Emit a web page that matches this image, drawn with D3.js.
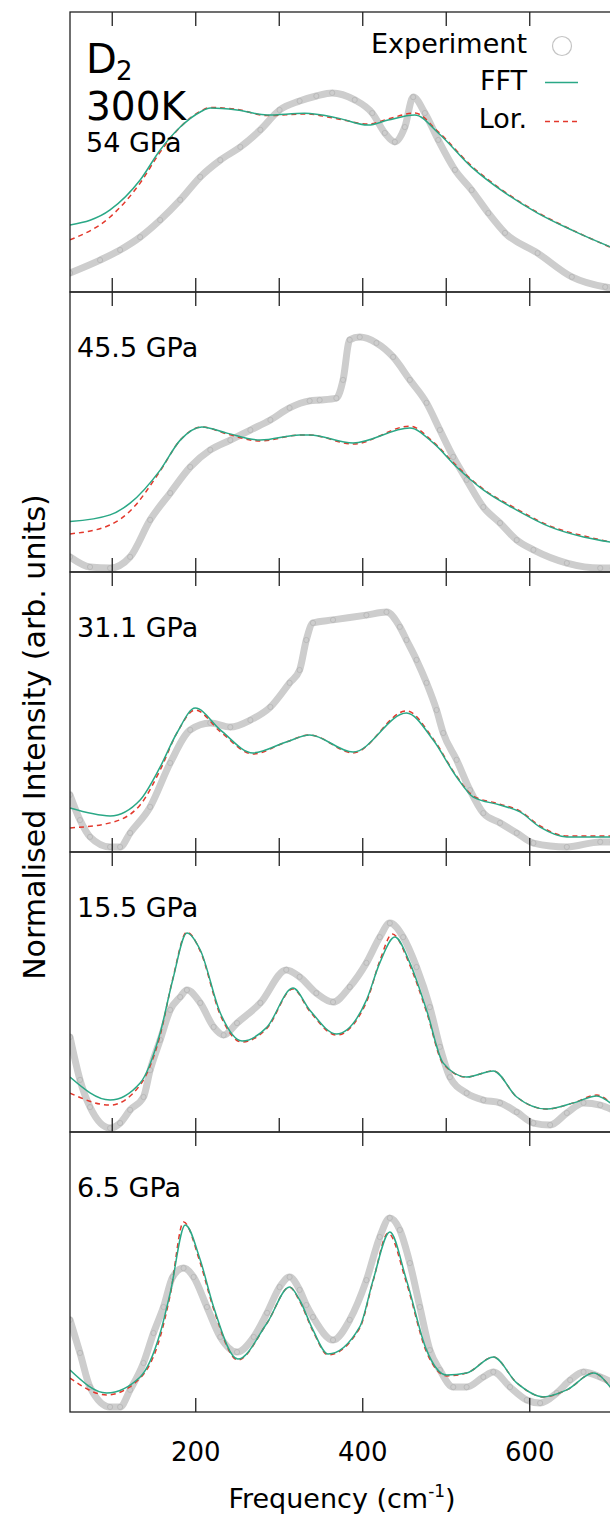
<!DOCTYPE html>
<html>
<head>
<meta charset="utf-8">
<script src="https://cdn.jsdelivr.net/npm/d3@7"></script>
<style>
  html, body { margin: 0; padding: 0; background: #fff; }
  svg { display: block; font-family: "DejaVu Sans", sans-serif; }
</style>
</head>
<body>
<svg id="chart" width="610" height="1525"></svg>
<script>
// ---------------- DATA ----------------
const pressureLabels = ["54 GPa", "45.5 GPa", "31.1 GPa", "15.5 GPa", "6.5 GPa"];
const xDomain = [50, 700];
const xTickLabels = [200, 400, 600];
const minorTicks = [100, 200, 300, 400, 500, 600];

// [frequency (cm-1), normalised intensity]
const exp54 = [[50,0.068],[86,0.114],[110,0.150],[134,0.196],[158,0.257],[182,0.329],[206,0.411],[230,0.471],[254,0.518],[278,0.579],[301,0.650],[325,0.682],[345,0.700],[364,0.711],[391,0.686],[412,0.639],[427,0.568],[439,0.536],[451,0.589],[461,0.696],[475,0.639],[491,0.543],[511,0.436],[531,0.364],[551,0.282],[571,0.211],[610,0.139],[651,0.054],[691,0.018],[700,0.014]];
const fft54 = [[50,0.239],[98,0.293],[134,0.400],[158,0.507],[182,0.589],[206,0.643],[218,0.657],[250,0.650],[286,0.632],[331,0.638],[371,0.621],[407,0.596],[431,0.614],[463,0.632],[491,0.568],[531,0.446],[571,0.354],[610,0.282],[651,0.221],[697,0.161]];
const lor54 = [[50,0.186],[98,0.268],[134,0.389],[158,0.500],[182,0.589],[206,0.645],[218,0.659],[250,0.652],[286,0.630],[331,0.636],[371,0.618],[407,0.600],[431,0.618],[463,0.639],[491,0.572],[531,0.450],[571,0.357],[610,0.284],[651,0.222],[697,0.160]];

const exp455 = [[50,0.054],[74,0.018],[98,0.014],[122,0.054],[146,0.186],[170,0.282],[194,0.375],[218,0.436],[242,0.471],[266,0.507],[290,0.543],[313,0.586],[337,0.611],[349,0.614],[369,0.621],[377,0.686],[385,0.829],[397,0.839],[417,0.818],[437,0.768],[457,0.686],[477,0.604],[493,0.507],[509,0.411],[525,0.329],[545,0.232],[565,0.175],[585,0.114],[605,0.079],[645,0.032],[685,0.014],[700,0.014]];
const fft455 = [[50,0.180],[98,0.204],[122,0.246],[158,0.364],[182,0.471],[208,0.518],[238,0.496],[278,0.471],[325,0.489],[337,0.489],[389,0.461],[457,0.514],[485,0.461],[513,0.375],[545,0.293],[585,0.221],[625,0.161],[665,0.125],[697,0.107]];
const lor455 = [[50,0.136],[98,0.168],[122,0.218],[158,0.361],[182,0.471],[208,0.518],[238,0.493],[278,0.468],[325,0.489],[337,0.489],[389,0.457],[457,0.521],[485,0.464],[513,0.379],[545,0.296],[585,0.225],[625,0.164],[665,0.129],[697,0.107]];

const exp311 = [[50,0.204],[62,0.114],[74,0.054],[98,0.018],[110,0.018],[122,0.068],[146,0.161],[170,0.318],[194,0.436],[218,0.461],[242,0.446],[266,0.471],[290,0.518],[313,0.604],[325,0.650],[333,0.757],[341,0.818],[365,0.829],[405,0.846],[429,0.857],[445,0.804],[453,0.757],[465,0.686],[477,0.604],[489,0.507],[497,0.425],[513,0.329],[529,0.221],[545,0.139],[565,0.104],[585,0.068],[605,0.032],[645,0.018],[685,0.036],[700,0.036]];
const fft311 = [[50,0.157],[98,0.129],[134,0.186],[158,0.304],[178,0.425],[200,0.514],[230,0.436],[269,0.354],[309,0.393],[337,0.418],[389,0.357],[453,0.496],[485,0.400],[513,0.268],[533,0.196],[565,0.168],[589,0.143],[613,0.089],[645,0.054],[697,0.054]];
const lor311 = [[50,0.086],[98,0.104],[134,0.168],[158,0.293],[178,0.425],[200,0.507],[230,0.430],[269,0.350],[309,0.393],[337,0.418],[389,0.354],[453,0.504],[485,0.404],[513,0.271],[533,0.200],[565,0.171],[589,0.146],[613,0.093],[645,0.057],[697,0.057]];

const exp155 = [[50,0.339],[62,0.186],[74,0.089],[98,0.014],[110,0.032],[122,0.079],[138,0.125],[146,0.221],[158,0.329],[170,0.436],[182,0.482],[190,0.507],[206,0.461],[222,0.375],[234,0.346],[250,0.389],[278,0.461],[309,0.579],[325,0.554],[345,0.496],[365,0.464],[385,0.518],[405,0.604],[421,0.696],[433,0.746],[449,0.696],[465,0.589],[481,0.446],[493,0.304],[505,0.196],[525,0.139],[545,0.114],[565,0.104],[585,0.071],[605,0.032],[625,0.025],[645,0.068],[665,0.104],[685,0.096],[700,0.079]];
const fft155 = [[50,0.196],[98,0.114],[134,0.175],[158,0.354],[173,0.543],[190,0.711],[206,0.650],[230,0.425],[256,0.325],[286,0.375],[317,0.514],[337,0.436],[369,0.350],[405,0.471],[421,0.604],[439,0.696],[457,0.604],[477,0.436],[497,0.246],[525,0.196],[557,0.218],[585,0.125],[621,0.082],[653,0.104],[681,0.129],[697,0.104]];
const lor155 = [[50,0.139],[98,0.096],[134,0.168],[158,0.346],[173,0.546],[190,0.714],[206,0.646],[230,0.418],[256,0.321],[286,0.371],[317,0.511],[337,0.432],[369,0.346],[405,0.464],[421,0.611],[436,0.707],[457,0.596],[477,0.429],[497,0.243],[525,0.196],[557,0.218],[585,0.125],[621,0.082],[653,0.104],[681,0.132],[697,0.104]];

const exp65 = [[50,0.329],[62,0.211],[74,0.089],[98,0.018],[110,0.018],[122,0.079],[138,0.175],[150,0.282],[162,0.375],[173,0.482],[186,0.514],[198,0.482],[214,0.375],[230,0.268],[250,0.214],[270,0.268],[286,0.354],[301,0.446],[313,0.482],[325,0.436],[333,0.382],[341,0.339],[365,0.257],[385,0.329],[405,0.471],[421,0.625],[433,0.693],[445,0.650],[457,0.532],[469,0.375],[481,0.221],[493,0.150],[509,0.089],[525,0.089],[545,0.125],[557,0.143],[577,0.089],[597,0.043],[613,0.032],[633,0.068],[649,0.114],[665,0.143],[685,0.125],[700,0.104]];
const fft65 = [[50,0.150],[94,0.068],[134,0.125],[158,0.282],[170,0.425],[188,0.668],[206,0.543],[222,0.375],[251,0.189],[286,0.318],[313,0.446],[325,0.400],[341,0.293],[359,0.207],[397,0.304],[413,0.471],[433,0.643],[453,0.471],[477,0.221],[501,0.132],[525,0.139],[557,0.196],[585,0.104],[617,0.054],[645,0.079],[677,0.139],[697,0.089]];
const lor65 = [[50,0.121],[94,0.061],[134,0.121],[158,0.268],[170,0.418],[186,0.679],[206,0.532],[222,0.368],[251,0.186],[286,0.318],[313,0.446],[325,0.396],[341,0.289],[359,0.204],[397,0.300],[413,0.468],[431,0.639],[453,0.461],[477,0.214],[501,0.129],[525,0.139],[557,0.196],[585,0.104],[617,0.054],[645,0.079],[677,0.139],[697,0.089]];

const expSeries = [exp54, exp455, exp311, exp155, exp65];
const fftSeries = [fft54, fft455, fft311, fft155, fft65];
const lorSeries = [lor54, lor455, lor311, lor155, lor65];

// ---------------- LAYOUT ----------------
const svg = d3.select("#chart");
const left = 70, right = 612.75, top0 = 12, panelH = 280;
const fftColor = "#2aa886", lorColor = "#e3382c";
const x = d3.scaleLinear().domain(xDomain).range([left, right]);

svg.append("defs").selectAll("clipPath").data(pressureLabels).join("clipPath")
  .attr("id", (d, i) => "clip" + i)
  .append("rect")
  .attr("x", left).attr("y", (d, i) => top0 + i * panelH)
  .attr("width", right - left).attr("height", panelH);

pressureLabels.forEach((label, i) => {
  const pTop = top0 + i * panelH, pBot = pTop + panelH;
  const y = d3.scaleLinear().domain([0, 1]).range([pBot, pTop]);
  const g = svg.append("g");
  const data = g.append("g").attr("clip-path", `url(#clip${i})`);

  const expLine = d3.line().x(d => x(d[0])).y(d => y(d[1])).curve(d3.curveMonotoneX);
  data.append("path").datum(expSeries[i])
    .attr("d", expLine).attr("fill", "none")
    .attr("stroke", "#cdcdcd").attr("stroke-width", 7)
    .attr("stroke-linejoin", "round").attr("stroke-linecap", "round");
  data.selectAll("circle.exp").data(expSeries[i]).join("circle")
    .attr("class", "exp")
    .attr("cx", d => x(d[0])).attr("cy", d => y(d[1])).attr("r", 2.6)
    .attr("fill", "none").attr("stroke", "#bababa").attr("stroke-width", 1);

  const fitLine = d3.line().x(d => x(d[0])).y(d => y(d[1])).curve(d3.curveMonotoneX);
  data.append("path").datum(lorSeries[i]).attr("d", fitLine)
    .attr("fill", "none").attr("stroke", lorColor).attr("stroke-width", 1.5)
    .attr("stroke-dasharray", "5,4");
  data.append("path").datum(fftSeries[i]).attr("d", fitLine)
    .attr("fill", "none").attr("stroke", fftColor).attr("stroke-width", 1.5);

  const ticks = i === 4 ? xTickLabels : minorTicks;
  const topAx = d3.axisTop(x).tickValues(ticks).tickSizeInner(-14).tickSizeOuter(0).tickFormat("");
  const botAx = d3.axisBottom(x).tickValues(ticks).tickSizeInner(-14).tickSizeOuter(0)
    .tickFormat(i === 4 ? d3.format("d") : "").tickPadding(31);
  const ta = g.append("g").attr("transform", `translate(0,${pTop})`).call(topAx);
  const ba = g.append("g").attr("transform", `translate(0,${pBot})`).call(botAx);
  [ta, ba].forEach(a => {
    a.select(".domain").remove();
    a.selectAll(".tick line").attr("stroke", "#222").attr("stroke-width", 1.3);
    a.selectAll(".tick text").attr("font-family", "DejaVu Sans").attr("font-size", 26).attr("fill", "#000");
  });

  g.append("rect").attr("x", left).attr("y", pTop).attr("width", right - left + 5).attr("height", panelH)
    .attr("fill", "none").attr("stroke", "#222").attr("stroke-width", 1.3);

  if (i === 0) {
    g.append("text").attr("x", 86).attr("y", 73).attr("font-size", 40).text("D");
    g.append("text").attr("x", 116).attr("y", 80).attr("font-size", 26).text("2");
    g.append("text").attr("x", 86).attr("y", 120).attr("font-size", 39).text("300K");
    g.append("text").attr("x", 86).attr("y", 152).attr("font-size", 27).text(label);
  } else {
    g.append("text").attr("x", 77).attr("y", pTop + 65).attr("font-size", 27).text(label);
  }
});

// Legend
const leg = svg.append("g").attr("font-size", 27).attr("text-anchor", "end");
leg.append("text").attr("x", 527).attr("y", 53).text("Experiment");
leg.append("text").attr("x", 527).attr("y", 90).text("FFT");
leg.append("text").attr("x", 527).attr("y", 128).text("Lor.");
leg.append("circle").attr("cx", 562).attr("cy", 46).attr("r", 9.5)
  .attr("fill", "none").attr("stroke", "#c4c4c4").attr("stroke-width", 1.2);
leg.append("line").attr("x1", 545).attr("x2", 578).attr("y1", 82.5).attr("y2", 82.5)
  .attr("stroke", fftColor).attr("stroke-width", 1.5);
leg.append("line").attr("x1", 545).attr("x2", 578).attr("y1", 121.5).attr("y2", 121.5)
  .attr("stroke", lorColor).attr("stroke-width", 1.5).attr("stroke-dasharray", "5,4");

// Axis titles
const xt = svg.append("text").attr("x", 342).attr("y", 1508).attr("text-anchor", "middle").attr("font-size", 27);
xt.append("tspan").text("Frequency (cm");
xt.append("tspan").attr("font-size", 17).attr("dy", -11).text("-1");
xt.append("tspan").attr("dy", 11).text(")");

svg.append("text").attr("transform", "translate(45,737) rotate(-90)")
  .attr("text-anchor", "middle").attr("font-size", 30)
  .text("Normalised Intensity (arb. units)");
</script>
</body>
</html>
